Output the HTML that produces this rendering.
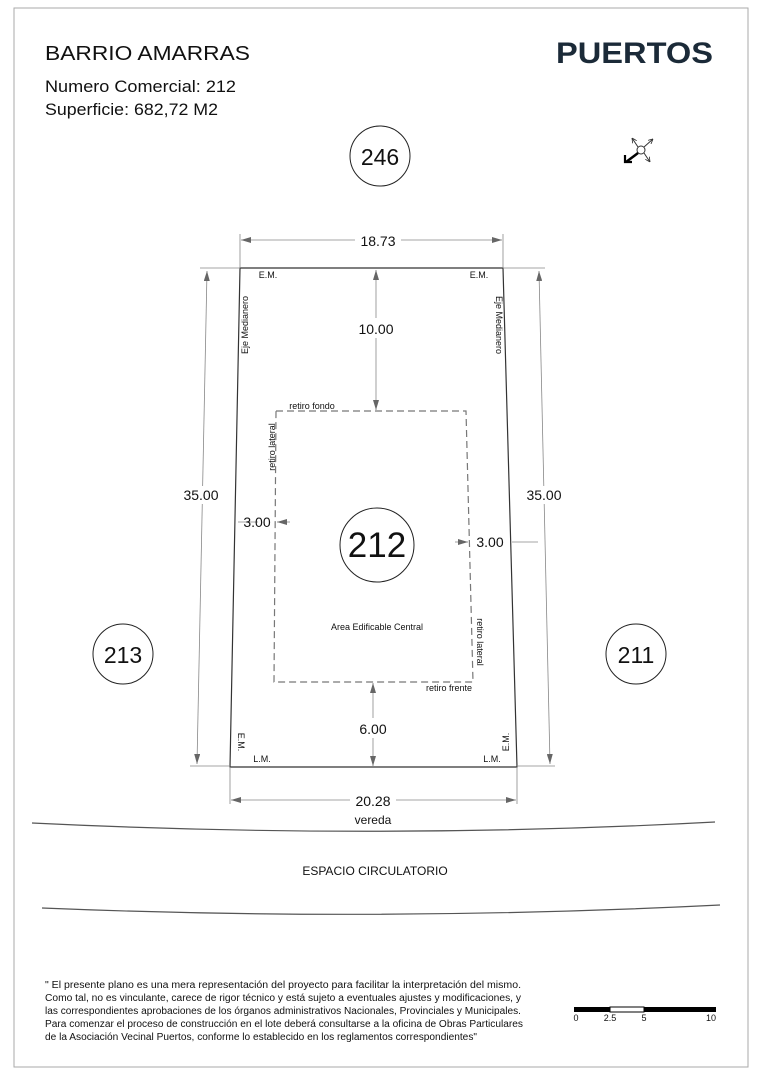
<!DOCTYPE html>
<html><head><meta charset="utf-8"><style>
body{margin:0;background:#fff;}
svg{display:block;font-family:"Liberation Sans",Arial,sans-serif;}
</style></head><body>
<svg width="762" height="1080" viewBox="0 0 762 1080">
<defs>
<marker id="a" viewBox="0 0 10 6" refX="10" refY="3" markerWidth="10" markerHeight="6" orient="auto-start-reverse" markerUnits="userSpaceOnUse"><path d="M0,0 L10,3 L0,6 Z" fill="#666"/></marker>
<marker id="s" viewBox="0 0 6 6" refX="6" refY="3" markerWidth="5" markerHeight="5" orient="auto" markerUnits="userSpaceOnUse"><path d="M0,0 L6,3 L0,6" fill="none" stroke="#333"/></marker>
</defs>
<rect x="14" y="8" width="734" height="1059" fill="none" stroke="#aaa" stroke-width="1"/>
<text x="45" y="60" font-size="20" fill="#111" textLength="205" lengthAdjust="spacingAndGlyphs">BARRIO AMARRAS</text>
<text x="45" y="92" font-size="17" fill="#111" textLength="191" lengthAdjust="spacingAndGlyphs">Numero Comercial: 212</text>
<text x="45" y="115" font-size="17" fill="#111" textLength="173" lengthAdjust="spacingAndGlyphs">Superficie: 682,72 M2</text>
<text x="556" y="63" font-size="30" font-weight="bold" fill="#1b2a38" textLength="157" lengthAdjust="spacingAndGlyphs">PUERTOS</text>
<!-- compass -->
<g stroke="#333" stroke-width="1" fill="none">
<circle cx="641" cy="150" r="4"/>
<line x1="638" y1="147" x2="632" y2="138" marker-end="url(#s)"/><line x1="644" y1="147" x2="653" y2="139" marker-end="url(#s)"/><line x1="644" y1="153" x2="650" y2="162" marker-end="url(#s)"/>
<line x1="638" y1="153" x2="626" y2="162" stroke-width="2.5" stroke="#000"/>
<path d="M625,155 L625,162 L632,162" stroke-width="2.2" stroke="#000"/>
</g>
<!-- circles -->
<g fill="#fff" stroke="#222" stroke-width="1">
<circle cx="380" cy="156" r="30"/><circle cx="377" cy="545" r="37"/>
<circle cx="123" cy="654" r="30"/><circle cx="636" cy="654" r="30"/>
</g>
<g text-anchor="middle" fill="#111">
<text x="380" y="165" font-size="23">246</text>
<text x="377" y="557" font-size="35">212</text>
<text x="123" y="663" font-size="23">213</text>
<text x="636" y="663" font-size="23">211</text>
</g>
<polygon points="240,268 503,268 517,767 230,767" fill="none" stroke="#333" stroke-width="1.2"/>
<polygon points="276,411 466,411 473,682 274,682" fill="none" stroke="#777" stroke-width="1.2" stroke-dasharray="7,4"/>
<g stroke="#888" stroke-width="0.8" fill="none">
<line x1="240" y1="234" x2="240" y2="268"/><line x1="503" y1="234" x2="503" y2="268"/>
<line x1="241" y1="240" x2="502" y2="240" marker-start="url(#a)" marker-end="url(#a)"/>
<line x1="230" y1="767" x2="230" y2="804"/><line x1="517" y1="767" x2="517" y2="804"/>
<line x1="231" y1="800" x2="516" y2="800" marker-start="url(#a)" marker-end="url(#a)"/>
<line x1="200" y1="268" x2="240" y2="268"/><line x1="503" y1="268" x2="545" y2="268"/>
<line x1="190" y1="766" x2="230" y2="766"/><line x1="517" y1="766" x2="555" y2="766"/>
<line x1="207" y1="271" x2="197" y2="764" marker-start="url(#a)" marker-end="url(#a)"/>
<line x1="539" y1="271" x2="550" y2="764" marker-start="url(#a)" marker-end="url(#a)"/>
<line x1="376" y1="270" x2="376" y2="410" marker-start="url(#a)" marker-end="url(#a)"/>
<line x1="373" y1="683" x2="373" y2="766" marker-start="url(#a)" marker-end="url(#a)"/>
<line x1="290" y1="522" x2="277" y2="522" marker-end="url(#a)"/>
<line x1="455" y1="542" x2="468" y2="542" marker-end="url(#a)"/>
<line x1="512" y1="542" x2="538" y2="542"/>
<line x1="238" y1="522" x2="258" y2="522"/>
</g>
<g fill="#111" text-anchor="middle">
<rect x="355" y="230" width="46" height="18" fill="#fff"/>
<text x="378" y="246" font-size="14">18.73</text>
<rect x="350" y="790" width="46" height="18" fill="#fff"/>
<text x="373" y="806" font-size="14">20.28</text>
<text x="373" y="824" font-size="12">vereda</text>
<rect x="355" y="318" width="42" height="20" fill="#fff"/>
<text x="376" y="334" font-size="14">10.00</text>
<rect x="355" y="718" width="38" height="20" fill="#fff"/>
<text x="373" y="734" font-size="14">6.00</text>
<rect x="182" y="486" width="38" height="18" fill="#fff"/>
<text x="201" y="500" font-size="14">35.00</text>
<rect x="525" y="486" width="38" height="18" fill="#fff"/>
<text x="544" y="500" font-size="14">35.00</text>
<text x="257" y="527" font-size="14">3.00</text>
<text x="490" y="547" font-size="14">3.00</text>
<text x="377" y="630" font-size="9">Area Edificable Central</text>
<text x="312" y="409" font-size="9">retiro fondo</text>
<text x="449" y="691" font-size="9">retiro frente</text>
<text x="268" y="278" font-size="9">E.M.</text>
<text x="479" y="278" font-size="9">E.M.</text>
<text x="262" y="762" font-size="9">L.M.</text>
<text x="492" y="762" font-size="9">L.M.</text>
<text font-size="9" transform="translate(248,325) rotate(-90)">Eje Medianero</text>
<text font-size="9" transform="translate(496,325) rotate(90)">Eje Medianero</text>
<text font-size="9" transform="translate(275,447) rotate(-90)">retiro lateral</text>
<text font-size="9" transform="translate(477,642) rotate(90)">retiro lateral</text>
<text font-size="9" transform="translate(238,742) rotate(90)">E.M.</text>
<text font-size="9" transform="translate(509,742) rotate(-90)">E.M.</text>
<text x="375" y="875" font-size="12">ESPACIO CIRCULATORIO</text>
</g>
<path d="M32,823 Q380,840 715,822" fill="none" stroke="#555" stroke-width="1.2"/>
<path d="M42,908 Q380,922 720,905" fill="none" stroke="#555" stroke-width="1.2"/>
<g font-size="10" fill="#111" lengthAdjust="spacingAndGlyphs">
<text x="45" y="988" textLength="476" lengthAdjust="spacingAndGlyphs">" El presente plano es una mera representación del proyecto para facilitar la interpretación del mismo.</text>
<text x="45" y="1001" textLength="476" lengthAdjust="spacingAndGlyphs">Como tal, no es vinculante, carece de rigor técnico y está sujeto a eventuales ajustes y modificaciones, y</text>
<text x="45" y="1014" textLength="476" lengthAdjust="spacingAndGlyphs">las correspondientes aprobaciones de los órganos administrativos Nacionales, Provinciales y Municipales.</text>
<text x="45" y="1027" textLength="478" lengthAdjust="spacingAndGlyphs">Para comenzar el proceso de construcción en el lote deberá consultarse a la oficina de Obras Particulares</text>
<text x="45" y="1040" textLength="432" lengthAdjust="spacingAndGlyphs">de la Asociación Vecinal Puertos, conforme lo establecido en los reglamentos correspondientes"</text>
</g>
<rect x="574" y="1007" width="36" height="5" fill="#000"/>
<rect x="610" y="1007" width="34" height="5" fill="#fff" stroke="#000" stroke-width="1"/>
<rect x="644" y="1007" width="72" height="5" fill="#000"/>
<g font-size="9" fill="#111" text-anchor="middle">
<text x="576" y="1021">0</text><text x="610" y="1021">2.5</text><text x="644" y="1021">5</text><text x="711" y="1021">10</text>
</g>
</svg>
</body></html>
